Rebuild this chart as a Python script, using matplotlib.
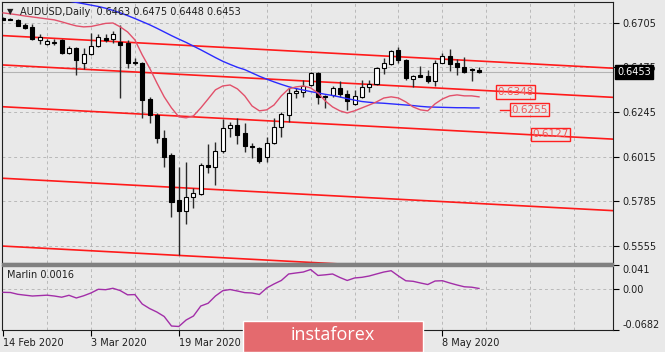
import matplotlib
matplotlib.use('Agg')
import matplotlib.pyplot as plt
import matplotlib.transforms as mtransforms
from matplotlib.patches import Rectangle

# daily AUDUSD candles, 14 Feb 2020 .. 15 May 2020
opens = [0.6727, 0.6726, 0.6716, 0.6693, 0.6681, 0.6616, 0.6594, 0.6602, 0.6613, 0.6551,
         0.6573, 0.6499, 0.6543, 0.6587, 0.6628, 0.6619, 0.6604, 0.6599, 0.6504, 0.6496,
         0.6311, 0.6232, 0.6110, 0.6024, 0.5792, 0.5733, 0.5806, 0.5823, 0.5973, 0.5961,
         0.6046, 0.6163, 0.6178, 0.6139, 0.6072, 0.6058, 0.6016, 0.6084, 0.6170, 0.6230,
         0.6342, 0.6350, 0.6384, 0.6448, 0.6328, 0.6333, 0.6371, 0.6336, 0.6287, 0.6324,
         0.6372, 0.6390, 0.6470, 0.6492, 0.6564, 0.6513, 0.6417, 0.6434, 0.6431, 0.6402,
         0.6499, 0.6534, 0.6499, 0.6475, 0.6465, 0.6463]
highs = [0.6733, 0.6731, 0.6722, 0.6702, 0.6698, 0.6645, 0.6619, 0.6619, 0.6619, 0.6585,
         0.6582, 0.6573, 0.6650, 0.6645, 0.6645, 0.6662, 0.6693, 0.6616, 0.6522, 0.6504,
         0.6324, 0.6240, 0.6153, 0.6033, 0.5964, 0.5990, 0.5853, 0.5981, 0.6081, 0.6093,
         0.6208, 0.6192, 0.6213, 0.6190, 0.6084, 0.6067, 0.6115, 0.6213, 0.6247, 0.6367,
         0.6367, 0.6410, 0.6451, 0.6452, 0.6333, 0.6379, 0.6405, 0.6359, 0.6359, 0.6410,
         0.6410, 0.6479, 0.6522, 0.6564, 0.6582, 0.6516, 0.6436, 0.6482, 0.6461, 0.6510,
         0.6551, 0.6568, 0.6516, 0.6530, 0.6470, 0.6475]
lows = [0.6716, 0.6716, 0.6685, 0.6671, 0.6616, 0.6594, 0.6589, 0.6590, 0.6543, 0.6543,
        0.6436, 0.6467, 0.6539, 0.6582, 0.6607, 0.6599, 0.6316, 0.6470, 0.6487, 0.6213,
        0.6187, 0.6084, 0.5964, 0.5707, 0.5509, 0.5669, 0.5750, 0.5818, 0.5933, 0.5870,
        0.6036, 0.6118, 0.6081, 0.6041, 0.6007, 0.5981, 0.5990, 0.6081, 0.6118, 0.6196,
        0.6316, 0.6324, 0.6379, 0.6287, 0.6264, 0.6324, 0.6324, 0.6256, 0.6281, 0.6316,
        0.6350, 0.6384, 0.6441, 0.6487, 0.6496, 0.6410, 0.6372, 0.6424, 0.6396, 0.6379,
        0.6496, 0.6458, 0.6436, 0.6444, 0.6407, 0.6448]
closes = [0.6719, 0.6719, 0.6688, 0.6676, 0.6619, 0.6630, 0.6611, 0.6603, 0.6547, 0.6573,
          0.6513, 0.6543, 0.6585, 0.6633, 0.6616, 0.6645, 0.6590, 0.6496, 0.6496, 0.6307,
          0.6232, 0.6110, 0.6016, 0.5784, 0.5736, 0.5806, 0.5830, 0.5973, 0.5964, 0.6046,
          0.6165, 0.6178, 0.6127, 0.6072, 0.6067, 0.5995, 0.6087, 0.6170, 0.6235, 0.6342,
          0.6354, 0.6381, 0.6448, 0.6324, 0.6321, 0.6367, 0.6338, 0.6304, 0.6328, 0.6372,
          0.6390, 0.6470, 0.6499, 0.6559, 0.6513, 0.6419, 0.6432, 0.6427, 0.6402, 0.6499,
          0.6534, 0.6492, 0.6475, 0.6453, 0.6461, 0.6453]

# blue moving average, starts at bar 7
ma_first = 7
ma_values = [0.6826, 0.6821, 0.6815, 0.6809, 0.6802, 0.6795, 0.6788, 0.6779, 0.6768, 0.6755,
             0.6741, 0.6726, 0.6710, 0.6694, 0.6676, 0.6657, 0.6638, 0.6620, 0.6603, 0.6584,
             0.6565, 0.6545, 0.6525, 0.6506, 0.6490, 0.6475, 0.6463, 0.6446, 0.6429, 0.6414,
             0.6400, 0.6387, 0.6375, 0.6366, 0.6358, 0.6350, 0.6343, 0.6336, 0.6330, 0.6322,
             0.6314, 0.6306, 0.6299, 0.6295, 0.6292, 0.6290, 0.6287, 0.6284, 0.6281, 0.6278,
             0.6274, 0.6271, 0.6270, 0.6269, 0.6268, 0.6267, 0.6267, 0.6266, 0.6266]

# pink smoothed line
wave_values = [0.6755, 0.6750, 0.6745, 0.6739, 0.6734, 0.6729, 0.6724, 0.6719, 0.6709, 0.6698,
               0.6688, 0.6683, 0.6685, 0.6693, 0.6701, 0.6703, 0.6683, 0.6657, 0.6616, 0.6539,
               0.6472, 0.6395, 0.6323, 0.6266, 0.6220, 0.6215, 0.6225, 0.6266, 0.6312, 0.6359,
               0.6379, 0.6384, 0.6364, 0.6328, 0.6276, 0.6251, 0.6256, 0.6281, 0.6328, 0.6364,
               0.6374, 0.6379, 0.6369, 0.6343, 0.6302, 0.6271, 0.6251, 0.6240, 0.6251, 0.6266,
               0.6281, 0.6297, 0.6317, 0.6323, 0.6317, 0.6297, 0.6271, 0.6256, 0.6251, 0.6287,
               0.6312, 0.6328, 0.6333, 0.6328, 0.6328, 0.6323]

marlin_values = [-0.0049, -0.0052, -0.0082, -0.0097, -0.0111, -0.0104, -0.0097, -0.0111, -0.0131, -0.0099,
                 -0.0144, -0.0107, -0.0060, 0.0002, -0.0005, 0.0019, -0.0020, -0.0091, -0.0087, -0.0245,
                 -0.0321, -0.0380, -0.0455, -0.0615, -0.0623, -0.0514, -0.0447, -0.0279, -0.0233, -0.0111,
                 -0.0022, -0.0002, -0.0027, -0.0054, -0.0060, -0.0086, 0.0024, 0.0091, 0.0150, 0.0259,
                 0.0276, 0.0292, 0.0334, 0.0234, 0.0245, 0.0259, 0.0200, 0.0150, 0.0192, 0.0203,
                 0.0225, 0.0259, 0.0292, 0.0314, 0.0225, 0.0145, 0.0136, 0.0108, 0.0082, 0.0141,
                 0.0146, 0.0108, 0.0074, 0.0044, 0.0037, 0.0016]

# red channel lines: price at bar 0 and at bar 80
channel_start = [0.6638, 0.6487, 0.6272, 0.5904, 0.5555]
channel_end = [0.6477, 0.6327, 0.6112, 0.5744, 0.5395]

level_labels = ['0.6348', '0.6255', '0.6127']
level_prices = [0.6348, 0.6257, 0.6131]

price_ticks = [0.6705, 0.6475, 0.6245, 0.6015, 0.5785, 0.5555]
date_ticks = [0, 12, 24, 36, 48, 60]
# 6 Apr and 22 Apr sit under the watermark
date_labels = ['14 Feb 2020', '3 Mar 2020', '19 Mar 2020', '', '', '8 May 2020']

bg = '#e9e9e9'
txt = '#1e1e1e'
grid_c = '#b9b9b9'
W, H = 665, 352

fig = plt.figure(figsize=(6.65, 3.52), dpi=100, facecolor=bg)
ax = fig.add_axes([2 / W, 1 - 263 / H, 611 / W, 261 / H], facecolor=bg)
axm = fig.add_axes([2 / W, 1 - 330 / H, 611 / W, 65 / H], facecolor=bg, sharex=ax)

n = len(opens)
xs = list(range(n))

# grid
for k in range(6, 84, 6):
    ax.axvline(k, color=grid_c, lw=0.7, ls=(0, (3, 3)), zorder=0)
    axm.axvline(k, color=grid_c, lw=0.7, ls=(0, (3, 3)), zorder=0)
for p in price_ticks:
    ax.axhline(p, color=grid_c, lw=0.7, ls=(0, (3, 3)), zorder=0)
axm.axhline(0, color=grid_c, lw=0.7, ls=(0, (3, 3)), zorder=0)

# bid line
ax.axhline(closes[-1], color='#b4b4b4', lw=0.8, zorder=1)

# channel
for a, b in zip(channel_start, channel_end):
    ax.plot([-5, 85], [a + (b - a) * (-5) / 80, a + (b - a) * 85 / 80], color='#ff1a1a', lw=1.2, zorder=2)

# candles
ax.vlines(xs, lows, highs, color='#2a2a2a', lw=1, zorder=3)
bottoms = [min(o, c) for o, c in zip(opens, closes)]
heights = [max(abs(c - o), 0.00008) for o, c in zip(opens, closes)]
faces = ['white' if c > o else 'black' for o, c in zip(opens, closes)]
ax.bar(xs, heights, bottom=bottoms, width=0.55, color=faces, edgecolor='black', lw=0.8, zorder=4)

ax.plot(range(ma_first, ma_first + len(ma_values)), ma_values, color='#2a2aff', lw=1, zorder=5)
ax.plot(xs, wave_values, color='#e2506a', lw=1, zorder=5)

# price level labels
lab_x = [67.5, 69.4, 72.3]
for lx, p, s in zip(lab_x, level_prices, level_labels):
    ax.text(lx, p, s, ha='left', va='center', fontsize=7.5, color='#f05a5a',
            bbox=dict(boxstyle='square,pad=0.15', fc='none', ec='#ff2020', lw=1), zorder=6)
ax.plot([67.9, 69.2], [level_prices[1], level_prices[1]], color='#ff2020', lw=1, zorder=6)

ax.set_xlim(-0.15, 83.3)
ax.set_ylim(0.5468, 0.6811)
ax.yaxis.tick_right()
ax.set_yticks(price_ticks)
ax.set_yticklabels([f'{p:.4f}' for p in price_ticks])
ax.tick_params(axis='y', direction='out', length=4, width=0.8, pad=3, labelsize=7, labelcolor=txt)
ax.tick_params(axis='x', length=0, labelbottom=False)

# current price box
off = mtransforms.offset_copy(mtransforms.blended_transform_factory(ax.transAxes, ax.transData),
                              fig=fig, x=4, y=0, units='dots')
ax.text(1.0, closes[-1], f'{closes[-1]:.4f}', transform=off, ha='left', va='center', fontsize=7,
        color='white', clip_on=False, zorder=10,
        bbox=dict(boxstyle='square,pad=0.2', fc='black', ec='black'))

# indicator
axm.plot(xs, marlin_values, color='#a22ea8', lw=1, zorder=3)
axm.set_ylim(-0.0682, 0.041)
axm.yaxis.tick_right()
axm.set_yticks([0.041, 0.0, -0.0682])
axm.set_yticklabels(['0.041', '0.00', '-0.0682'])
axm.tick_params(axis='y', direction='out', length=4, width=0.8, pad=3, labelsize=7, labelcolor=txt)
ylabs = axm.get_yticklabels()
ylabs[0].set_verticalalignment('top')
ylabs[2].set_verticalalignment('bottom')
axm.set_xticks(date_ticks)
axm.set_xticklabels(date_labels)
axm.tick_params(axis='x', direction='out', length=4, width=0.8, pad=2, labelsize=7, labelcolor=txt)
for t in axm.get_xticklabels():
    t.set_horizontalalignment('left')
axm.text(0.008, 0.84, f'Marlin {marlin_values[-1]:.4f}', transform=axm.transAxes, fontsize=7,
         color=txt, va='center')

for a in (ax, axm):
    for s in a.spines.values():
        s.set_color('#202020')
        s.set_linewidth(0.8)

# separator between panels
fig.add_artist(Rectangle((2 / W, 1 - 266 / H), 611 / W, 3 / H, transform=fig.transFigure,
                         color='#808080', zorder=5))

# header
fig.text(10 / W, 1 - 12 / H, '\u25bc', fontsize=6, ha='center', va='center', color=txt)
fig.text(20 / W, 1 - 12 / H, 'AUDUSD,Daily  0.6463 0.6475 0.6448 0.6453', fontsize=7,
         va='center', color=txt)

# watermark
fig.add_artist(Rectangle((243 / W, 0), 180 / W, 31.5 / H, transform=fig.transFigure,
                         fc='#e46a6e', ec='white', lw=1, zorder=20))
fig.text(333 / W, 1 - 335.5 / H, 'instaforex', fontsize=13, family='Open Sans', color='white',
         ha='center', va='center', zorder=21)

fig.savefig('out.png', dpi=100, facecolor=bg)
